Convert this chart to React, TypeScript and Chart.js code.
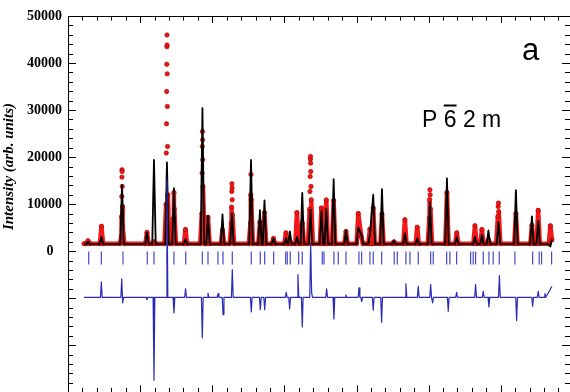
import React, { useEffect, useRef } from 'react';
import { Chart, registerables } from 'chart.js';

Chart.register(...registerables);

// Peak positions (2θ) shared by the observed and calculated profiles
const peakPos = [12.77, 14.64, 17.49, 20.95, 21.92, 23.72, 24.69, 26.29, 28.64, 29.41, 31.42, 32.73, 35.37, 36.61, 37.24, 38.49, 40.22, 40.77, 41.74, 42.48, 43.62, 45.14, 45.81, 46.83, 48.54, 50.24, 50.68, 51.86, 52.32, 53.53, 55.19, 56.71, 58.42, 60.18, 62.54, 63.9, 66.42, 67.39, 68.29, 69.68, 72.1, 74.32, 75.19, 76.88];
// Calculated peak heights
const calcPeak = [2000, 3000, 14100, 4000, 19400, 18850, 13400, 2500, 30400, 7500, 7800, 8000, 19400, 8700, 10800, 2700, 2800, 4200, 3000, 12400, 8800, 8500, 9000, 15300, 4400, 5000, 3500, 3500, 12000, 13200, 2200, 3800, 2700, 10300, 15500, 3000, 3000, 3500, 4400, 6200, 13000, 7400, 6400, 1000];
// Observed peak heights
const obsPeak = [2200, 5300, 17300, 4000, 2000, 45960, 12500, 4600, 25430, 7200, 4500, 14330, 16300, 6200, 8200, 2700, 3900, 2000, 8200, 6000, 20130, 9200, 10900, 10800, 4200, 8000, 3000, 4700, 9200, 7900, 2000, 6700, 5100, 13050, 12500, 3900, 5400, 4600, 2400, 10230, 8000, 5500, 8700, 5400];
// Observed points on the flanks of the strong reflections
const obsFlankX = [17.4, 17.43, 17.46, 17.48, 17.5, 17.52, 17.55, 17.58, 23.6, 23.63, 23.66, 23.68, 23.7, 23.71, 23.73, 23.75, 23.77, 23.8, 23.84, 24.63, 24.74, 28.55, 28.59, 28.62, 28.66, 28.68, 28.71, 32.64, 32.68, 32.71, 32.75, 32.77, 32.8, 35.3, 35.34, 35.41, 43.5, 43.55, 43.58, 43.61, 43.64, 43.66, 43.69, 43.72, 60.1, 60.14, 60.21, 60.25, 69.6, 69.64, 69.72];
const obsFlankY = [3140, 7390, 11630, 15750, 16940, 13760, 9510, 5260, 10000, 20860, 27090, 33940, 39750, 43480, 43840, 37700, 30760, 22270, 12000, 7000, 9000, 8000, 16600, 22250, 23670, 19430, 13760, 5990, 9380, 12700, 13420, 10930, 7750, 6000, 12000, 11000, 8960, 12700, 15880, 19570, 18720, 16940, 13760, 10930, 7000, 11000, 12000, 9000, 7390, 9510, 8450];
// Difference curve (Yobs - Ycalc, shifted) features
const diffPos = [14.62, 17.45, 17.58, 20.95, 21.92, 23.72, 24.69, 26.3, 28.62, 29.41, 30.8, 31.5, 32.78, 35.41, 36.66, 37.27, 40.26, 40.73, 41.88, 42.48, 43.64, 43.78, 45.86, 46.87, 48.54, 50.35, 50.72, 52.32, 53.48, 56.85, 58.56, 60.28, 60.55, 62.72, 63.88, 66.51, 67.57, 68.36, 69.81, 72.2, 74.42, 75.19, 76.12];
const diffVal = [-6540, -5900, -11000, -10300, -27430, 15200, -13120, -8020, -18430, -8900, -9000, -13480, -3930, -12910, -12420, -12420, -8750, -12270, -4990, -16090, 1490, -8870, -8020, -14390, -9300, -7810, -10700, -12570, -15120, -6960, -7470, -7110, -11000, -12780, -8750, -7110, -8530, -11850, -5200, -14750, -11720, -8530, -9000];
// Bragg reflection positions
const braggPos = [12.87, 14.62, 17.62, 20.99, 21.92, 23.76, 24.69, 26.32, 28.62, 29.41, 30.79, 31.49, 32.78, 35.41, 36.66, 37.27, 38.51, 40.18, 40.4, 40.81, 41.98, 42.48, 43.64, 45.25, 45.49, 46.87, 47.47, 48.54, 50.34, 50.71, 51.86, 52.32, 53.49, 55.23, 55.65, 56.85, 57.41, 58.56, 60.28, 60.64, 62.5, 62.95, 63.88, 65.82, 66.18, 66.51, 67.57, 68.36, 68.95, 69.79, 71.96, 74.42, 75.33, 75.66, 77.05];
const yTickLabels = ['0', '10000', '20000', '30000', '40000', '50000'];

const X_START = 12.22;
const X_END = 77.1;
const OBS_BG = 1600;
const CALC_BG = 1500;
const DIFF_BG = -9800;
const BRAGG_Y = -1450;

type P = { x: number; y: number };

function profile(xs: number[], ys: number[], base: number, hw: number, endY: number): P[] {
  const pts = xs.map((x, i) => ({ x, y: ys[i] })).sort((a, b) => a.x - b.x);
  const out: P[] = [{ x: X_START, y: base }];
  let lastIsBase = true;
  for (const p of pts) {
    const last = out[out.length - 1];
    if (p.x - last.x > 2 * hw) {
      if (!lastIsBase) out.push({ x: last.x + hw, y: base });
      out.push({ x: p.x - hw, y: base });
    }
    out.push(p);
    lastIsBase = false;
  }
  const last = out[out.length - 1];
  if (X_END - last.x > hw) out.push({ x: last.x + hw, y: base });
  out.push({ x: X_END, y: endY });
  return out;
}

const W = 578;
const H = 400;

const decorPlugin = {
  id: 'decor',
  afterDraw(chart: any) {
    const { ctx, chartArea } = chart;
    const xs = chart.scales.x;
    const ys = chart.scales.y;
    const { left, right, top, bottom } = chartArea;
    ctx.save();
    ctx.strokeStyle = '#000';
    ctx.lineWidth = 1;
    ctx.strokeRect(left + 0.5, top + 0.5, right - left, bottom - top);
    ctx.beginPath();
    for (let v = -30000; v <= 50000; v += 2000) {
      const y = Math.round(ys.getPixelForValue(v)) + 0.5;
      const len = v % 10000 === 0 ? 8 : 5;
      ctx.moveTo(left, y);
      ctx.lineTo(left + len, y);
      ctx.moveTo(right, y);
      ctx.lineTo(right - len, y);
    }
    for (let v = 10; v <= 79.6; v += 2) {
      const x = Math.round(xs.getPixelForValue(v)) + 0.5;
      const len = v % 10 === 0 ? 7 : 4.5;
      ctx.moveTo(x, top);
      ctx.lineTo(x, top + len);
      ctx.moveTo(x, bottom);
      ctx.lineTo(x, bottom - len);
    }
    ctx.stroke();

    ctx.fillStyle = '#000';
    ctx.font = 'bold 14px "Liberation Serif", "Times New Roman", serif';
    ctx.textAlign = 'right';
    ctx.textBaseline = 'middle';
    yTickLabels.forEach((t) => {
      const y = ys.getPixelForValue(Number(t));
      ctx.fillText(t, t === '0' ? 53.5 : 62, y);
    });

    ctx.save();
    ctx.translate(9, ys.getPixelForValue(18000));
    ctx.rotate(-Math.PI / 2);
    ctx.textAlign = 'center';
    ctx.font = 'italic bold 15px "Liberation Serif", "Times New Roman", serif';
    ctx.fillText('Intensity (arb. units)', 0, 0);
    ctx.restore();

    ctx.textAlign = 'left';
    ctx.textBaseline = 'alphabetic';
    ctx.font = '31px "Liberation Sans", Arial, sans-serif';
    ctx.fillText('a', 522, 59.5);

    ctx.font = '23px "Liberation Sans", Arial, sans-serif';
    const sx = 422;
    const sy = 127;
    const sg = 'P 6 2 m';
    ctx.fillText(sg, sx, sy);
    const wP = ctx.measureText('P ').width;
    const w6 = ctx.measureText('6').width;
    ctx.lineWidth = 2;
    ctx.beginPath();
    ctx.moveTo(sx + wP, 105.5);
    ctx.lineTo(sx + wP + w6, 105.5);
    ctx.stroke();
    ctx.restore();
  },
};

export default function App() {
  const ref = useRef<HTMLCanvasElement | null>(null);
  useEffect(() => {
    if (!ref.current) return;
    const obsX = [...peakPos, ...obsFlankX];
    const obsY = [...obsPeak, ...obsFlankY];
    const chart = new Chart(ref.current, {
      type: 'line',
      data: {
        datasets: [
          {
            label: 'Yobs-Ycalc',
            data: profile(diffPos, diffVal, DIFF_BG, 0.12, -7470),
            borderColor: '#2a2ab8',
            borderWidth: 1.2,
            borderJoinStyle: 'round',
            pointRadius: 0,
            order: 0,
          },
          {
            label: 'Bragg',
            data: braggPos.map((x) => ({ x, y: BRAGG_Y })),
            showLine: false,
            pointStyle: 'line',
            rotation: 90,
            pointRadius: 6.5,
            pointBorderColor: '#4848cc',
            pointBorderWidth: 1.2,
            order: 1,
          },
          {
            label: 'Ycalc',
            data: profile(peakPos, calcPeak, CALC_BG, 0.24, 2500),
            borderColor: '#000',
            borderWidth: 1.8,
            borderJoinStyle: 'round',
            pointRadius: 0,
            order: 2,
          },
          {
            label: 'Yobs',
            data: profile(obsX, obsY, OBS_BG, 0.22, 2400),
            borderColor: '#f01818',
            borderWidth: 4.5,
            borderJoinStyle: 'round',
            pointRadius: 2.2,
            pointBackgroundColor: '#ee1515',
            pointBorderColor: '#a80000',
            pointBorderWidth: 0.6,
            segment: {
              borderColor: (c: any) =>
                c.p0.parsed.y > 7000 && c.p1.parsed.y > 7000 ? 'rgba(0,0,0,0)' : '#f01818',
            },
            order: 3,
          },
        ] as any,
      },
      options: {
        responsive: false,
        animation: false,
        devicePixelRatio: 1,
        layout: { padding: { left: 68, right: W - 570, top: 16, bottom: H - 393 } },
        plugins: { legend: { display: false }, tooltip: { enabled: false } },
        scales: {
          x: { type: 'linear', min: 10, max: 79.6, display: false },
          y: { type: 'linear', min: -30000, max: 50000, display: false },
        },
      } as any,
      plugins: [decorPlugin],
    });
    return () => chart.destroy();
  }, []);
  return (
    <div style={{ position: 'fixed', left: 0, top: 0, width: 570, height: 392, overflow: 'hidden', background: '#fff' }}>
      <canvas ref={ref} width={W} height={H} style={{ width: W, height: H, display: 'block' }} />
    </div>
  );
}
